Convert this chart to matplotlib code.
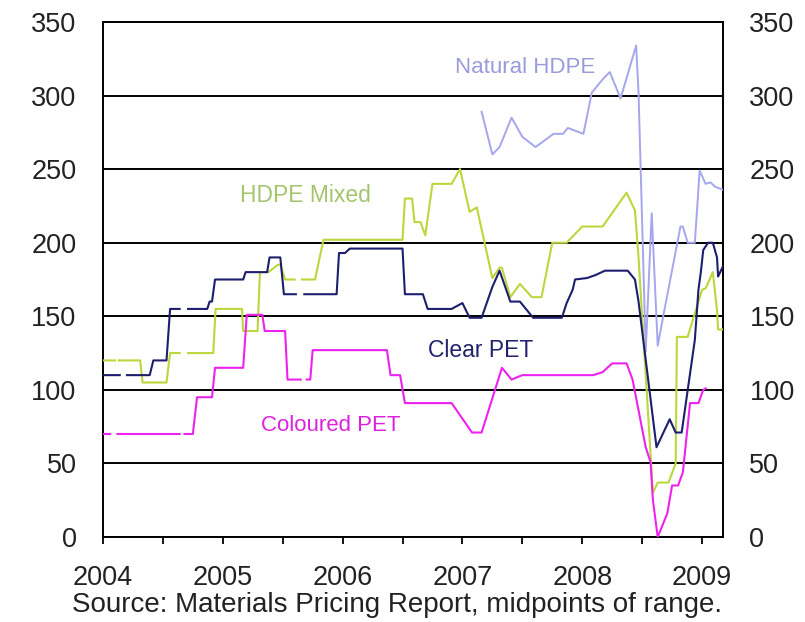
import numpy as np
import matplotlib
matplotlib.use("Agg")
import matplotlib.pyplot as plt
from matplotlib.ticker import FixedLocator

plt.rcParams['font.family'] = ['Liberation Sans', 'DejaVu Sans']

nan = np.nan
BASE = 2004

# Clear PET (years since 2004, price)
clear_t = [0, 0.14, nan, 0.2, 0.39, 0.42, 0.53, 0.56, 0.64, nan, 0.71, 0.87, 0.89, 0.91, 0.935,
           1.17, 1.19, 1.37, 1.39, 1.48, 1.51, 1.61, nan, 1.68, 1.95, 1.97, 2.02, 2.06, 2.50, 2.52,
           2.67, 2.69, 2.71, 2.91, 3.0, 3.06, 3.16, 3.25, 3.31, 3.40, 3.48, 3.59, 3.83, 3.87,
           3.92, 3.94, 4.04, 4.11, 4.19, 4.38, 4.44, 4.47, 4.62, 4.73, 4.78, 4.83, 4.94, 4.97,
           4.99, 5.01, 5.05, 5.09, 5.125, 5.134, 5.175]
clear_v = [110, 110, nan, 110, 110, 120, 120, 155, 155, nan, 155, 155, 160, 160, 175,
           175, 180, 180, 190, 190, 165, 165, nan, 165, 165, 193, 193, 196, 196, 165,
           165, 160, 155, 155, 159, 149, 149, 170, 181, 160, 160, 149, 149, 159,
           168, 175, 176, 178, 181, 181, 175, 160, 61, 80, 71, 71, 134, 168,
           180, 195, 200, 200, 190, 177, 184]

# HDPE Mixed
mixed_t = [0, 0.10, nan, 0.13, 0.31, 0.33, 0.53, 0.56, 0.64, nan, 0.71, 0.92, 0.94, 1.16, 1.17,
           1.29, 1.31, 1.38, 1.46, 1.48, 1.52, 1.60, nan, 1.66, 1.77, 1.84, 2.50, 2.52, 2.58,
           2.60, 2.65, 2.69, 2.75, 2.91, 2.98, 3.06, 3.12, 3.25, 3.31, 3.33, 3.40, 3.48, 3.58,
           3.66, 3.75, 3.87, 4.00, 4.17, 4.37, 4.44, 4.47, 4.59, 4.63, 4.72, 4.78, 4.79, 4.88,
           5.0, 5.03, 5.09, 5.125, 5.134, 5.175]
mixed_v = [120, 120, nan, 120, 120, 105, 105, 125, 125, nan, 125, 125, 155, 155, 140,
           140, 180, 180, 185, 185, 175, 175, nan, 175, 175, 202, 202, 230, 230,
           214, 214, 205, 240, 240, 250, 221, 224, 176, 183, 183, 163, 172, 163,
           163, 200, 200, 211, 211, 234, 222, 190, 30, 37, 37, 50, 136, 136,
           168, 169, 180, 154, 141, 141]

# Coloured PET
col_t = [0, 0.06, nan, 0.12, 0.64, nan, 0.68, 0.75, 0.785, 0.91, 0.935, 1.17, 1.20, 1.33, 1.35,
         1.52, 1.54, 1.65, nan, 1.70, 1.73, 1.75, 2.37, 2.40, 2.48, 2.52, 2.91, 3.08, 3.16,
         3.33, 3.41, 3.50, 4.09, 4.17, 4.25, 4.37, 4.42, 4.53, 4.57, 4.59, 4.63, 4.71, 4.75,
         4.80, 4.84, 4.90, 4.97, 5.01, 5.03]
col_v = [70, 70, nan, 70, 70, nan, 70, 70, 95, 95, 115, 115, 151, 151, 140,
         140, 107, 107, nan, 107, 107, 127, 127, 110, 110, 91, 91, 71, 71,
         115, 107, 110, 110, 112, 118, 118, 107, 61, 51, 25, 0, 16, 35,
         35, 44, 91, 91, 100, 101]

# Natural HDPE
nat_t = [3.16, 3.25, 3.31, 3.41, 3.50, 3.61, 3.66, 3.76, 3.84, 3.88, 4.01, 4.08, 4.17, 4.23,
         4.32, 4.45, 4.47, 4.53, 4.58, 4.63, 4.69, 4.82, 4.84, 4.88, 4.94, 4.98, 5.03, 5.07,
         5.11, 5.175]
nat_v = [289, 260, 265, 285, 272, 265, 268, 274, 274, 278, 274, 302, 311, 316,
         298, 334, 302, 126, 220, 130, 156, 211, 211, 200, 200, 249, 240, 241,
         238, 236]

years = [2004, 2005, 2006, 2007, 2008, 2009]
yticks = [0, 50, 100, 150, 200, 250, 300, 350]

C_CLEAR = '#1E1E6E'
C_MIXED = '#BCD63C'
C_COL = '#EE22EE'
C_NAT = '#A6A6EE'

fig = plt.figure(figsize=(8.05, 6.22), dpi=100)
ax = fig.add_axes([103/805, 1-537/622, (723-103)/805, (537-22)/622])

def yrs(t):
    return [BASE + v for v in t]

ax.plot(yrs(nat_t), nat_v, color=C_NAT, lw=1.4, zorder=3)
ax.plot(yrs(mixed_t), mixed_v, color=C_MIXED, lw=1.5, zorder=4)
ax.plot(yrs(col_t), col_v, color=C_COL, lw=1.5, zorder=4)
ax.plot(yrs(clear_t), clear_v, color=C_CLEAR, lw=1.5, zorder=5)

ax.set_xlim(2004, 2009.175)
ax.set_ylim(0, 350)

for y in yticks:
    ax.axhline(y, color='black', lw=1.4, zorder=2)

ax.xaxis.set_major_locator(FixedLocator(years))
ax.xaxis.set_minor_locator(FixedLocator([y + 0.5 for y in years[:-1]]))
ax.set_xticklabels([str(y) for y in years])
ax.tick_params(axis='x', which='both', direction='out', length=5, width=1.3,
               color='black', labelsize=19.5, pad=15)
ax.set_yticks(yticks)
ax.tick_params(axis='y', which='both', length=0, labelsize=19.5, pad=19,
               left=True, right=True, labelleft=True, labelright=True)
for lab in ax.get_xticklabels() + ax.get_yticklabels():
    lab.set_color('#222222')

for s in ax.spines.values():
    s.set_linewidth(1.4)
    s.set_color('black')

ax.text(2007.52, 319, 'Natural HDPE', color='#9A9ADC', fontsize=16, ha='center', va='center')
ax.text(2005.69, 232, 'HDPE Mixed', color='#A5C46E', fontsize=16.5, ha='center', va='center')
ax.text(2007.155, 127, 'Clear PET', color='#22226E', fontsize=16.5, ha='center', va='center')
ax.text(2005.9, 76, 'Coloured PET', color='#DD22DD', fontsize=16, ha='center', va='center')

fig.text(72/805, 1-605/622, 'Source: Materials Pricing Report, midpoints of range.',
         fontsize=20, color='#222222', ha='left', va='center')

fig.savefig('out.png', dpi=100)
